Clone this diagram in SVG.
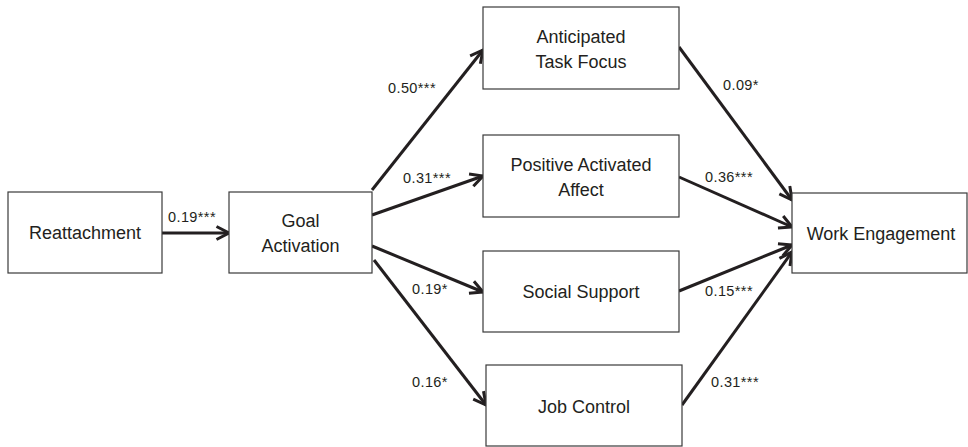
<svg xmlns="http://www.w3.org/2000/svg" width="968" height="447" viewBox="0 0 968 447">
<defs>
<style>
.box{fill:#fff;stroke:#3a3a3a;stroke-width:1.2}
.lbl{font-family:"Liberation Sans",Arial,sans-serif;font-size:18px;fill:#231f20;text-anchor:middle}
.coef{font-family:"Liberation Sans",Arial,sans-serif;font-size:14.5px;letter-spacing:0.4px;fill:#231f20}
.arr{stroke:#231f20;stroke-width:3;fill:none;marker-end:url(#ah)}
</style>
<marker id="ah" markerUnits="userSpaceOnUse" markerWidth="20" markerHeight="20" refX="14" refY="8" orient="auto">
<path d="M1.5,1.5 L14,8 L1.5,14.5" fill="none" stroke="#231f20" stroke-width="3"/>
</marker>
</defs>
<rect width="968" height="447" fill="#fff"/>
<g id="connectors">
<line class="arr" x1="162" y1="233" x2="229" y2="233"/>
<line class="arr" x1="372" y1="190" x2="483" y2="50"/>
<line class="arr" x1="372" y1="215" x2="483" y2="176"/>
<line class="arr" x1="372" y1="246" x2="483" y2="292"/>
<line class="arr" x1="374" y1="260" x2="486" y2="405"/>
<line class="arr" x1="679" y1="47" x2="792" y2="200"/>
<line class="arr" x1="679" y1="177" x2="792" y2="227"/>
<line class="arr" x1="679" y1="291" x2="792" y2="245"/>
<line class="arr" x1="682" y1="405" x2="792" y2="252"/>
<text class="coef" x="168" y="222">0.19***</text>
<text class="coef" x="388" y="93">0.50***</text>
<text class="coef" x="403" y="183">0.31***</text>
<text class="coef" x="412" y="294">0.19*</text>
<text class="coef" x="412" y="387">0.16*</text>
<text class="coef" x="723" y="90">0.09*</text>
<text class="coef" x="705" y="182">0.36***</text>
<text class="coef" x="705" y="296">0.15***</text>
<text class="coef" x="711" y="387">0.31***</text>
</g>
<g id="reattachment">
<rect class="box" x="8" y="192" width="154" height="81"/>
<text class="lbl" x="85" y="239">Reattachment</text>
</g>
<g id="goal-activation">
<rect class="box" x="229" y="192" width="143" height="81"/>
<text class="lbl" x="300.5" y="227">Goal</text>
<text class="lbl" x="300.5" y="252">Activation</text>
</g>
<g id="anticipated-task-focus">
<rect class="box" x="483" y="7" width="196" height="82"/>
<text class="lbl" x="581" y="43">Anticipated</text>
<text class="lbl" x="581" y="68">Task Focus</text>
</g>
<g id="positive-activated-affect">
<rect class="box" x="483" y="135" width="196" height="82"/>
<text class="lbl" x="581" y="171">Positive Activated</text>
<text class="lbl" x="581" y="196">Affect</text>
</g>
<g id="social-support">
<rect class="box" x="483" y="251" width="196" height="81"/>
<text class="lbl" x="581" y="298">Social Support</text>
</g>
<g id="job-control">
<rect class="box" x="486" y="365" width="196" height="81"/>
<text class="lbl" x="584" y="413">Job Control</text>
</g>
<g id="work-engagement">
<rect class="box" x="792" y="193" width="175" height="80"/>
<text class="lbl" x="881" y="240">Work Engagement</text>
</g>
</svg>
